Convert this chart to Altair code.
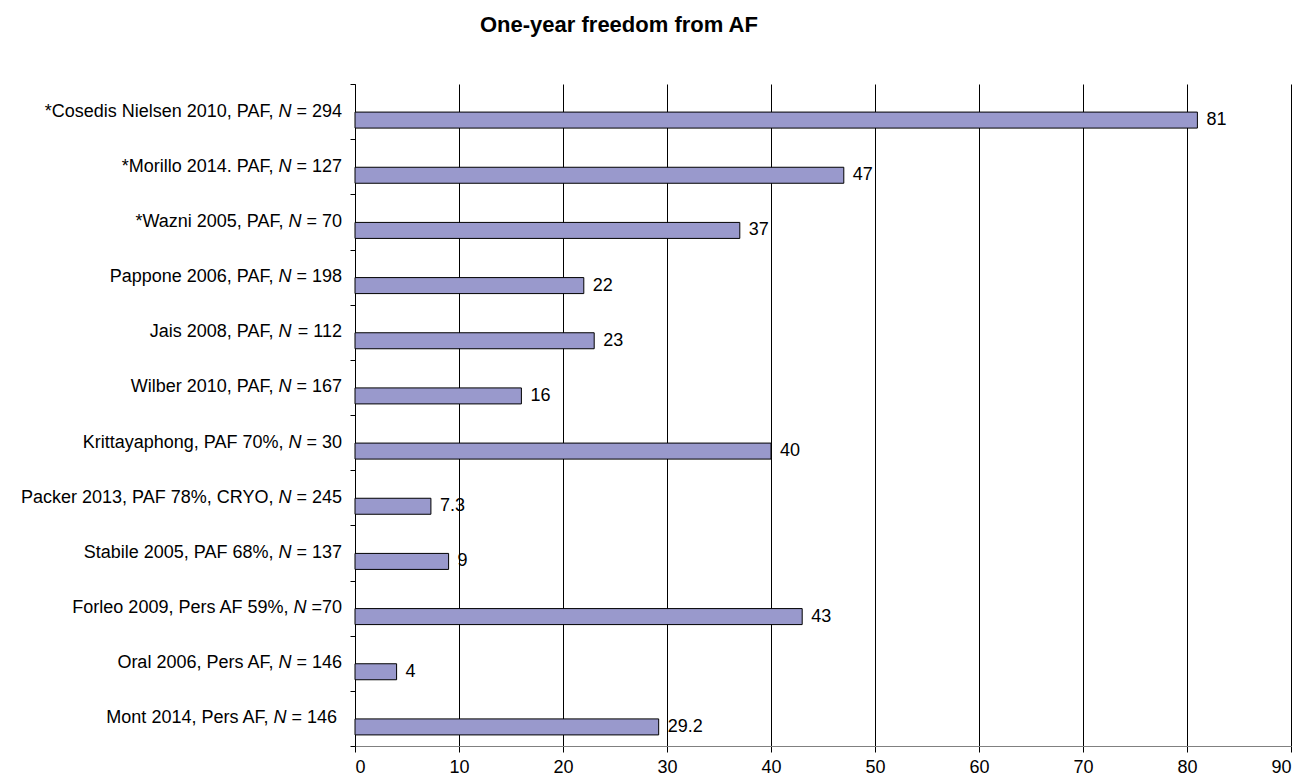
import altair as alt
import pandas as pd

# ---- data ----
label_prefix = [
    "*Cosedis Nielsen 2010, PAF, ",
    "*Morillo 2014. PAF, ",
    "*Wazni 2005, PAF, ",
    "Pappone 2006, PAF, ",
    "Jais 2008, PAF, ",
    "Wilber 2010, PAF, ",
    "Krittayaphong, PAF 70%, ",
    "Packer 2013, PAF 78%, CRYO, ",
    "Stabile 2005, PAF 68%, ",
    "Forleo 2009, Pers AF 59%, ",
    "Oral 2006, Pers AF, ",
    "Mont 2014, Pers AF, ",
]
label_n = ["N"] * 12
label_suffix = [" = 294", " = 127", " = 70", " = 198", " = 112", " = 167",
                " = 30", " = 245", " = 137", " =70", " = 146", " = 146 "]
freedom_pct = [81, 47, 37, 22, 23, 16, 40, 7.3, 9, 43, 4, 29.2]
value_text = ["81", "47", "37", "22", "23", "16", "40", "7.3", "9", "43", "4", "29.2"]

TITLE = "One-year freedom from AF"
X_MAX = 90

# ---- layout / style ----
W, H = 936, 662
FONT = "Liberation Sans, Arial, sans-serif"
FS = 18
BAR_COLOR = "#9999CC"
LABEL_GAP = 13  # px between label end and axis

# Arial / Liberation Sans advance widths (1/1000 em) for suffix measuring
ADV = {" ": 278, "=": 584, "N": 722}
ADV.update({d: 556 for d in "0123456789"})


def text_px(s):
    return sum(ADV.get(c, 556) for c in s) * FS / 1000.0


def trailing(s):
    return s[len(s.rstrip(" ")):]


px2data = X_MAX / W
rows = []
for p, n, s, v, t in zip(label_prefix, label_n, label_suffix,
                         freedom_pct, value_text):
    ws = text_px(s)
    wn = text_px(n)
    rows.append({
        "study": p + n + s,
        "pre": p.rstrip(" "), "n": n, "suf": s.strip(" "),
        "value": v, "vtext": t,
        "x_suf": -(LABEL_GAP + text_px(trailing(s))) * px2data,
        "x_n": -(LABEL_GAP + ws) * px2data,
        "x_pre": -(LABEL_GAP + ws + wn + text_px(trailing(p))) * px2data,
    })
df = pd.DataFrame(rows)
order = list(df["study"])

xscale = alt.Scale(domain=[0, X_MAX], nice=False, zero=True)
yenc = alt.Y("study:N", sort=order, title=None,
             scale=alt.Scale(paddingInner=0, paddingOuter=0),
             axis=alt.Axis(labels=False, tickBand="extent", ticks=True,
                           tickSize=5, tickColor="#000000",
                           domainColor="#000000", grid=False))

base = alt.Chart(df)

bars = base.mark_bar(size=16, yOffset=8.5, color=BAR_COLOR,
                     stroke="#000000", strokeWidth=1).encode(
    x=alt.X("value:Q", scale=xscale,
            axis=alt.Axis(values=list(range(0, X_MAX + 1, 10)), grid=True,
                          gridColor="#000000", gridWidth=1,
                          domainColor="#808080", tickColor="#000000",
                          tickSize=6, labelFontSize=FS, labelFont=FONT,
                          labelColor="#000000", labelPadding=6,
                          title="%", titleFont=FONT, titleFontSize=FS,
                          titleFontWeight="bold", titleColor="#000000",
                          titleX=887, titleY=-38, titleAlign="center",
                          titleBaseline="middle")),
    y=yenc,
)

vals = base.mark_text(align="left", baseline="middle", dx=9, yOffset=8.5,
                      font=FONT, fontSize=FS, color="#000000").encode(
    x=alt.X("value:Q", scale=xscale, title=None),
    y=alt.Y("study:N", sort=order, title=None),
    text="vtext:N",
)

lab_pre = base.mark_text(align="right", baseline="middle", font=FONT,
                         fontSize=FS, color="#000000").encode(
    x=alt.X("x_pre:Q", scale=xscale, title=None),
    y=alt.Y("study:N", sort=order, title=None),
    text="pre:N",
)
lab_n = base.mark_text(align="right", baseline="middle", font=FONT,
                       fontSize=FS, fontStyle="italic", color="#000000").encode(
    x=alt.X("x_n:Q", scale=xscale, title=None),
    y=alt.Y("study:N", sort=order, title=None),
    text="n:N",
)
lab_suf = base.mark_text(align="right", baseline="middle", font=FONT,
                         fontSize=FS, color="#000000").encode(
    x=alt.X("x_suf:Q", scale=xscale, title=None),
    y=alt.Y("study:N", sort=order, title=None),
    text="suf:N",
)

title = alt.Chart(pd.DataFrame({"t": [TITLE]})).mark_text(
    align="left", baseline="alphabetic", font=FONT, fontSize=22,
    fontWeight="bold", color="#000000").encode(
    text="t:N", x=alt.value(125), y=alt.value(-52))

chart = alt.layer(bars, vals, lab_pre, lab_n, lab_suf, title).properties(
    width=W, height=H,
    padding={"left": 355, "top": 84, "right": 13, "bottom": 30},
    autosize=alt.AutoSizeParams(type="none"),
    background="#ffffff",
).configure_view(stroke=None)

chart.save("out.html", embed_options={"renderer": "svg", "actions": False})
